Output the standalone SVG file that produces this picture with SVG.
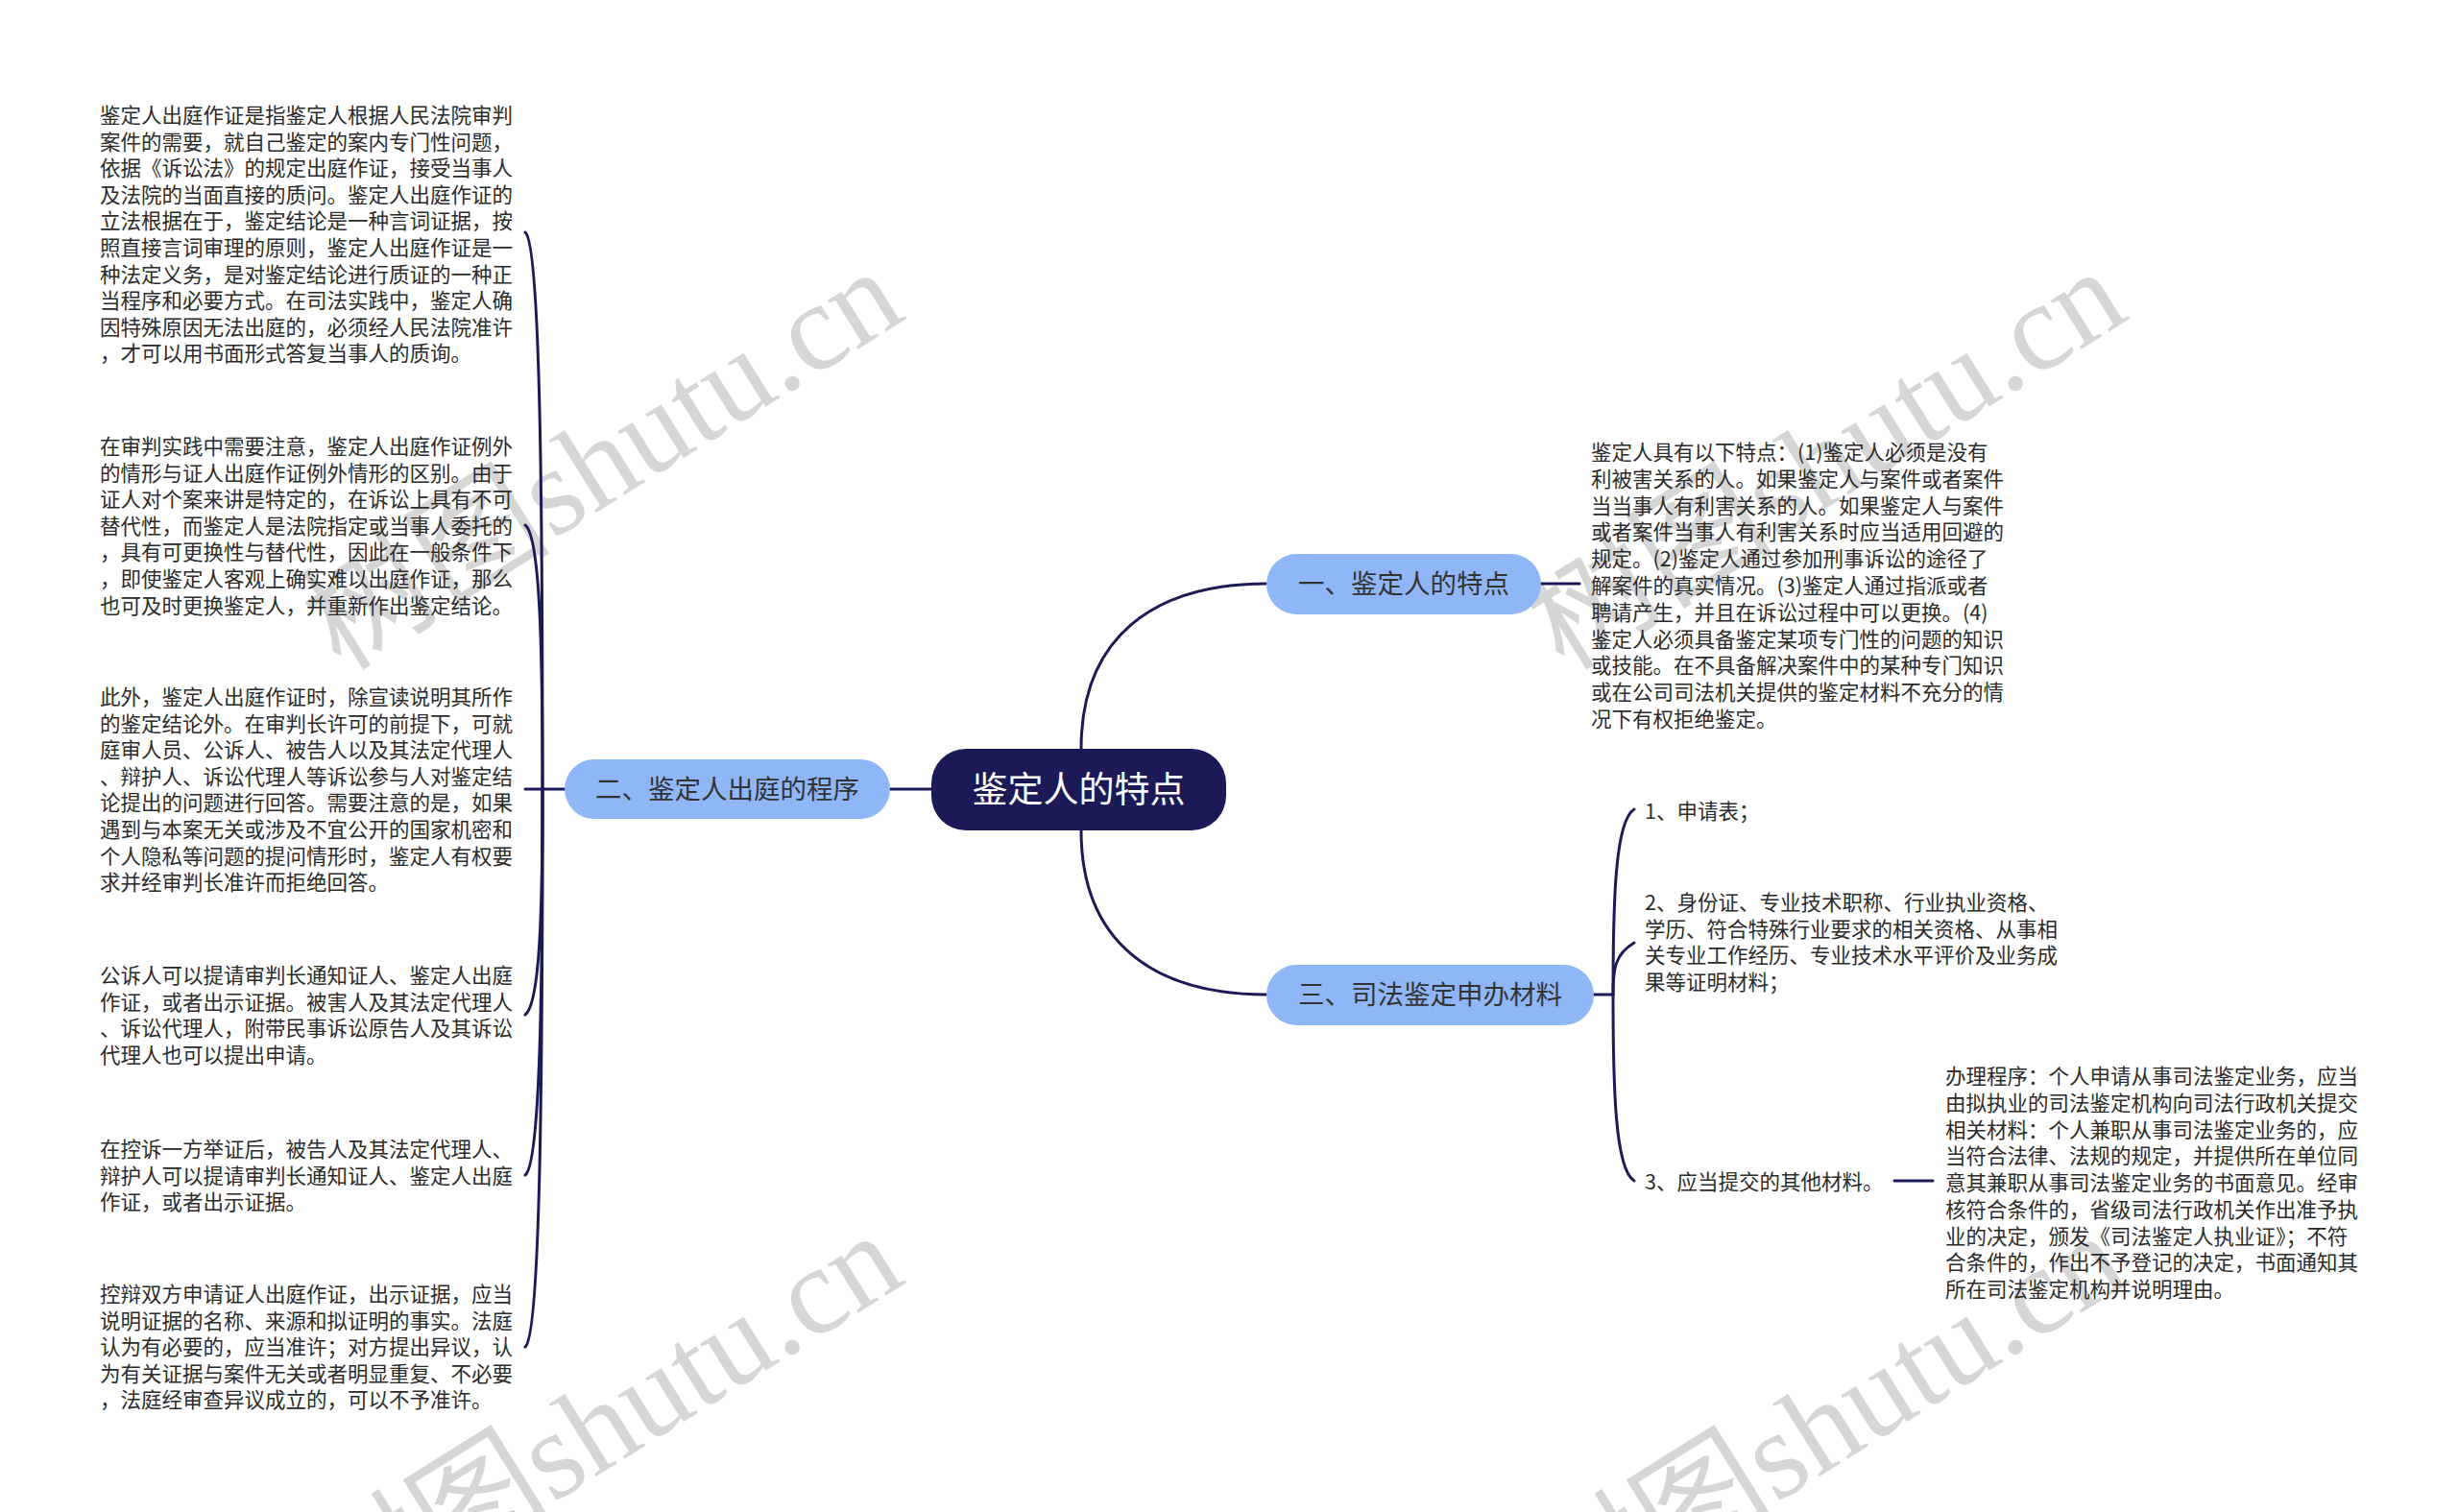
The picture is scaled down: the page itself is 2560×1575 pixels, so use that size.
<svg xmlns="http://www.w3.org/2000/svg" width="2560" height="1575" viewBox="0 0 2560 1575">
<style>
.wm{font-family:"Liberation Serif","Noto Sans CJK SC",serif;font-size:130px;fill:#d6d6d6;}
.t{font-family:"Noto Sans CJK SC","Noto Sans",sans-serif;font-size:21.5px;fill:#2b2b2b;}
.n{font-family:"Noto Sans CJK SC","Noto Sans",sans-serif;font-size:27.5px;fill:#333333;text-anchor:middle;}
.c{font-family:"Noto Sans CJK SC","Noto Sans",sans-serif;font-size:37px;fill:#ffffff;text-anchor:middle;}
.sub{fill:#8fb6f7;}
.root{fill:#1b1a57;}
.ln{fill:none;stroke:#1b1a57;stroke-width:3;stroke-linecap:round;}
</style>
<rect width="2560" height="1575" fill="#ffffff"/>
<g id="watermarks">
<text class="wm" x="355" y="700" transform="rotate(-32 355 700)">树图shutu.cn</text>
<text class="wm" x="1629" y="700" transform="rotate(-32 1629 700)">树图shutu.cn</text>
<text class="wm" x="355" y="1704" transform="rotate(-32 355 1704)">树图shutu.cn</text>
<text class="wm" x="1629" y="1704" transform="rotate(-32 1629 1704)">树图shutu.cn</text>
</g>
<g id="connectors">
<path class="ln" d="M1126,780 C1126,665 1200,608 1319,608"/>
<path class="ln" d="M1126,865 C1126,980 1200,1036 1319,1036"/>
<path class="ln" d="M927,822 L970,822"/>
<path class="ln" d="M1605,608 L1645,608"/>
<path class="ln" d="M547,822 L588,822"/>
<path class="ln" d="M565,822 C565,532 563,254 547,242"/>
<path class="ln" d="M565,822 C565,684 563,559 547,547"/>
<path class="ln" d="M565,822 C565,940 563,1045 547,1057"/>
<path class="ln" d="M565,822 C565,1023 563,1212 547,1224"/>
<path class="ln" d="M565,822 C565,1112 563,1391 547,1403"/>
<path class="ln" d="M1660,1036 L1680,1036"/>
<path class="ln" d="M1680,1036 C1680,940 1682,855 1702,843"/>
<path class="ln" d="M1680,1036 C1680,1009 1682,994 1702,982"/>
<path class="ln" d="M1680,1036 C1680,1132 1682,1218 1702,1230"/>
<path class="ln" d="M1973,1230 L2013,1230"/>
</g>
<g id="root">
<rect class="root" x="970" y="780" width="307" height="85" rx="36"/>
<text class="c" x="1123.5" y="836">鉴定人的特点</text>
</g>
<g id="node1">
<rect class="sub" x="1319" y="577" width="286" height="63" rx="31.5"/>
<text class="n" x="1462" y="618">一、鉴定人的特点</text>
</g>
<g id="node2">
<rect class="sub" x="588" y="791" width="339" height="62" rx="31"/>
<text class="n" x="757.5" y="832">二、鉴定人出庭的程序</text>
</g>
<g id="node3">
<rect class="sub" x="1319" y="1005" width="341" height="63" rx="31.5"/>
<text class="n" x="1489.5" y="1046">三、司法鉴定申办材料</text>
</g>
<g id="leaf-l1">
<text class="t" x="104" y="128">
<tspan x="104">鉴定人出庭作证是指鉴定人根据人民法院审判</tspan>
<tspan x="104" dy="27.6">案件的需要，就自己鉴定的案内专门性问题，</tspan>
<tspan x="104" dy="27.6">依据《诉讼法》的规定出庭作证，接受当事人</tspan>
<tspan x="104" dy="27.6">及法院的当面直接的质问。鉴定人出庭作证的</tspan>
<tspan x="104" dy="27.6">立法根据在于，鉴定结论是一种言词证据，按</tspan>
<tspan x="104" dy="27.6">照直接言词审理的原则，鉴定人出庭作证是一</tspan>
<tspan x="104" dy="27.6">种法定义务，是对鉴定结论进行质证的一种正</tspan>
<tspan x="104" dy="27.6">当程序和必要方式。在司法实践中，鉴定人确</tspan>
<tspan x="104" dy="27.6">因特殊原因无法出庭的，必须经人民法院准许</tspan>
<tspan x="104" dy="27.6">，才可以用书面形式答复当事人的质询。</tspan>
</text>
</g>
<g id="leaf-l2">
<text class="t" x="104" y="473">
<tspan x="104">在审判实践中需要注意，鉴定人出庭作证例外</tspan>
<tspan x="104" dy="27.6">的情形与证人出庭作证例外情形的区别。由于</tspan>
<tspan x="104" dy="27.6">证人对个案来讲是特定的，在诉讼上具有不可</tspan>
<tspan x="104" dy="27.6">替代性，而鉴定人是法院指定或当事人委托的</tspan>
<tspan x="104" dy="27.6">，具有可更换性与替代性，因此在一般条件下</tspan>
<tspan x="104" dy="27.6">，即使鉴定人客观上确实难以出庭作证，那么</tspan>
<tspan x="104" dy="27.6">也可及时更换鉴定人，并重新作出鉴定结论。</tspan>
</text>
</g>
<g id="leaf-l3">
<text class="t" x="104" y="734">
<tspan x="104">此外，鉴定人出庭作证时，除宣读说明其所作</tspan>
<tspan x="104" dy="27.6">的鉴定结论外。在审判长许可的前提下，可就</tspan>
<tspan x="104" dy="27.6">庭审人员、公诉人、被告人以及其法定代理人</tspan>
<tspan x="104" dy="27.6">、辩护人、诉讼代理人等诉讼参与人对鉴定结</tspan>
<tspan x="104" dy="27.6">论提出的问题进行回答。需要注意的是，如果</tspan>
<tspan x="104" dy="27.6">遇到与本案无关或涉及不宜公开的国家机密和</tspan>
<tspan x="104" dy="27.6">个人隐私等问题的提问情形时，鉴定人有权要</tspan>
<tspan x="104" dy="27.6">求并经审判长准许而拒绝回答。</tspan>
</text>
</g>
<g id="leaf-l4">
<text class="t" x="104" y="1024">
<tspan x="104">公诉人可以提请审判长通知证人、鉴定人出庭</tspan>
<tspan x="104" dy="27.6">作证，或者出示证据。被害人及其法定代理人</tspan>
<tspan x="104" dy="27.6">、诉讼代理人，附带民事诉讼原告人及其诉讼</tspan>
<tspan x="104" dy="27.6">代理人也可以提出申请。</tspan>
</text>
</g>
<g id="leaf-l5">
<text class="t" x="104" y="1205">
<tspan x="104">在控诉一方举证后，被告人及其法定代理人、</tspan>
<tspan x="104" dy="27.6">辩护人可以提请审判长通知证人、鉴定人出庭</tspan>
<tspan x="104" dy="27.6">作证，或者出示证据。</tspan>
</text>
</g>
<g id="leaf-l6">
<text class="t" x="104" y="1356">
<tspan x="104">控辩双方申请证人出庭作证，出示证据，应当</tspan>
<tspan x="104" dy="27.6">说明证据的名称、来源和拟证明的事实。法庭</tspan>
<tspan x="104" dy="27.6">认为有必要的，应当准许；对方提出异议，认</tspan>
<tspan x="104" dy="27.6">为有关证据与案件无关或者明显重复、不必要</tspan>
<tspan x="104" dy="27.6">，法庭经审查异议成立的，可以不予准许。</tspan>
</text>
</g>
<g id="leaf-r1">
<text class="t" x="1657" y="479">
<tspan x="1657">鉴定人具有以下特点：(1)鉴定人必须是没有</tspan>
<tspan x="1657" dy="27.8">利被害关系的人。如果鉴定人与案件或者案件</tspan>
<tspan x="1657" dy="27.8">当当事人有利害关系的人。如果鉴定人与案件</tspan>
<tspan x="1657" dy="27.8">或者案件当事人有利害关系时应当适用回避的</tspan>
<tspan x="1657" dy="27.8">规定。(2)鉴定人通过参加刑事诉讼的途径了</tspan>
<tspan x="1657" dy="27.8">解案件的真实情况。(3)鉴定人通过指派或者</tspan>
<tspan x="1657" dy="27.8">聘请产生，并且在诉讼过程中可以更换。(4)</tspan>
<tspan x="1657" dy="27.8">鉴定人必须具备鉴定某项专门性的问题的知识</tspan>
<tspan x="1657" dy="27.8">或技能。在不具备解决案件中的某种专门知识</tspan>
<tspan x="1657" dy="27.8">或在公司司法机关提供的鉴定材料不充分的情</tspan>
<tspan x="1657" dy="27.8">况下有权拒绝鉴定。</tspan>
</text>
</g>
<g id="item1">
<text class="t" x="1713" y="853">1、申请表；</text>
</g>
<g id="item2">
<text class="t" x="1713" y="948">
<tspan x="1713">2、身份证、专业技术职称、行业执业资格、</tspan>
<tspan x="1713" dy="27.5">学历、符合特殊行业要求的相关资格、从事相</tspan>
<tspan x="1713" dy="27.5">关专业工作经历、专业技术水平评价及业务成</tspan>
<tspan x="1713" dy="27.5">果等证明材料；</tspan>
</text>
</g>
<g id="item3">
<text class="t" x="1713" y="1239">3、应当提交的其他材料。</text>
</g>
<g id="leaf-r2">
<text class="t" x="2026" y="1129">
<tspan x="2026">办理程序：个人申请从事司法鉴定业务，应当</tspan>
<tspan x="2026" dy="27.75">由拟执业的司法鉴定机构向司法行政机关提交</tspan>
<tspan x="2026" dy="27.75">相关材料：个人兼职从事司法鉴定业务的，应</tspan>
<tspan x="2026" dy="27.75">当符合法律、法规的规定，并提供所在单位同</tspan>
<tspan x="2026" dy="27.75">意其兼职从事司法鉴定业务的书面意见。经审</tspan>
<tspan x="2026" dy="27.75">核符合条件的，省级司法行政机关作出准予执</tspan>
<tspan x="2026" dy="27.75">业的决定，颁发《司法鉴定人执业证》；不符</tspan>
<tspan x="2026" dy="27.75">合条件的，作出不予登记的决定，书面通知其</tspan>
<tspan x="2026" dy="27.75">所在司法鉴定机构并说明理由。</tspan>
</text>
</g>
</svg>
